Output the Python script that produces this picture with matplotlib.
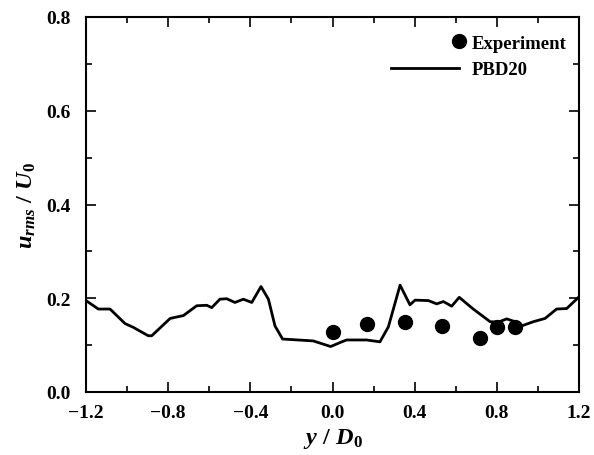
import matplotlib
matplotlib.use("Agg")
import matplotlib.pyplot as plt
from matplotlib.legend_handler import HandlerLine2D

plt.rcParams['font.family'] = ['Liberation Serif', 'DejaVu Serif']
plt.rcParams['mathtext.fontset'] = 'custom'
plt.rcParams['mathtext.it'] = 'Liberation Serif:italic:bold'
plt.rcParams['mathtext.rm'] = 'Liberation Serif:bold'

# experiment points
exp_y = [0.0, 0.17, 0.353, 0.532, 0.718, 0.803, 0.889]
exp_u = [0.129, 0.145, 0.149, 0.141, 0.116, 0.138, 0.139]

# PBD20 simulation profile
sim_y = [-1.2, -1.14, -1.083, -1.01, -0.97, -0.897, -0.88, -0.79, -0.726, -0.661,
         -0.612, -0.588, -0.548, -0.515, -0.475, -0.434, -0.393, -0.348, -0.312,
         -0.28, -0.243, -0.094, -0.009, 0.045, 0.069, 0.166, 0.231, 0.272, 0.329,
         0.377, 0.402, 0.467, 0.507, 0.54, 0.58, 0.617, 0.685, 0.734, 0.767, 0.807,
         0.848, 0.889, 0.921, 0.978, 1.035, 1.091, 1.14, 1.2]
sim_u = [0.195, 0.177, 0.177, 0.146, 0.138, 0.12, 0.12, 0.157, 0.163, 0.184,
         0.185, 0.18, 0.198, 0.199, 0.191, 0.198, 0.191, 0.225, 0.198,
         0.141, 0.113, 0.109, 0.097, 0.107, 0.111, 0.111, 0.107, 0.139, 0.228,
         0.186, 0.196, 0.195, 0.188, 0.193, 0.183, 0.202, 0.177, 0.161, 0.15, 0.149,
         0.156, 0.150, 0.141, 0.15, 0.157, 0.177, 0.178, 0.203]

xticks = [-1.2, -0.8, -0.4, 0.0, 0.4, 0.8, 1.2]
xtick_labels = ['\u22121.2', '\u22120.8', '\u22120.4', '0.0', '0.4', '0.8', '1.2']
yticks = [0.0, 0.2, 0.4, 0.6, 0.8]
ytick_labels = ['0.0', '0.2', '0.4', '0.6', '0.8']


class MarkerAtEnd(HandlerLine2D):
    # put the legend dot at the right end of the handle, next to the text
    def create_artists(self, *args, **kwargs):
        arts = super().create_artists(*args, **kwargs)
        for a in arts:
            a.set_markevery([2])
        return arts


fig = plt.figure(figsize=(5.94, 4.56), dpi=100)
ax = fig.add_axes([86/594, 1 - 393/456, (579-86)/594, (393-18)/456])

ax.plot(exp_y, exp_u, 'o', color='black', markersize=10, label='Experiment')
ax.plot(sim_y, sim_u, '-', color='black', linewidth=2, label='PBD20')

ax.set_xlim(-1.2, 1.2)
ax.set_ylim(0.0, 0.8)
ax.set_xticks(xticks, xtick_labels, fontweight='bold')
ax.set_yticks(yticks, ytick_labels, fontweight='bold')
ax.set_xticks([-1.0, -0.6, -0.2, 0.2, 0.6, 1.0], minor=True)
ax.set_yticks([0.1, 0.3, 0.5, 0.7], minor=True)
ax.tick_params(which='both', direction='in', top=True, right=True, width=1.2)
ax.tick_params(which='major', length=7, labelsize=14)
ax.tick_params(axis='x', which='major', pad=9)
ax.tick_params(axis='y', which='major', pad=11)
ax.tick_params(which='minor', length=4)
for sp in ax.spines.values():
    sp.set_linewidth(1.5)

ax.set_xlabel(r'$y\ /\ D_0$', fontsize=17.5, labelpad=3)
ax.set_ylabel(r'$u_{rms}\ /\ U_0$', fontsize=17.5, labelpad=6)

ax.legend(loc='upper right', bbox_to_anchor=(0.99, 0.973), borderaxespad=0,
          frameon=False, handlelength=3.6, numpoints=1,
          handletextpad=0.7, labelspacing=0.5,
          prop={'weight': 'bold', 'size': 13.5},
          handler_map={plt.Line2D: MarkerAtEnd(numpoints=1)})

fig.savefig('out.png', dpi=100)
